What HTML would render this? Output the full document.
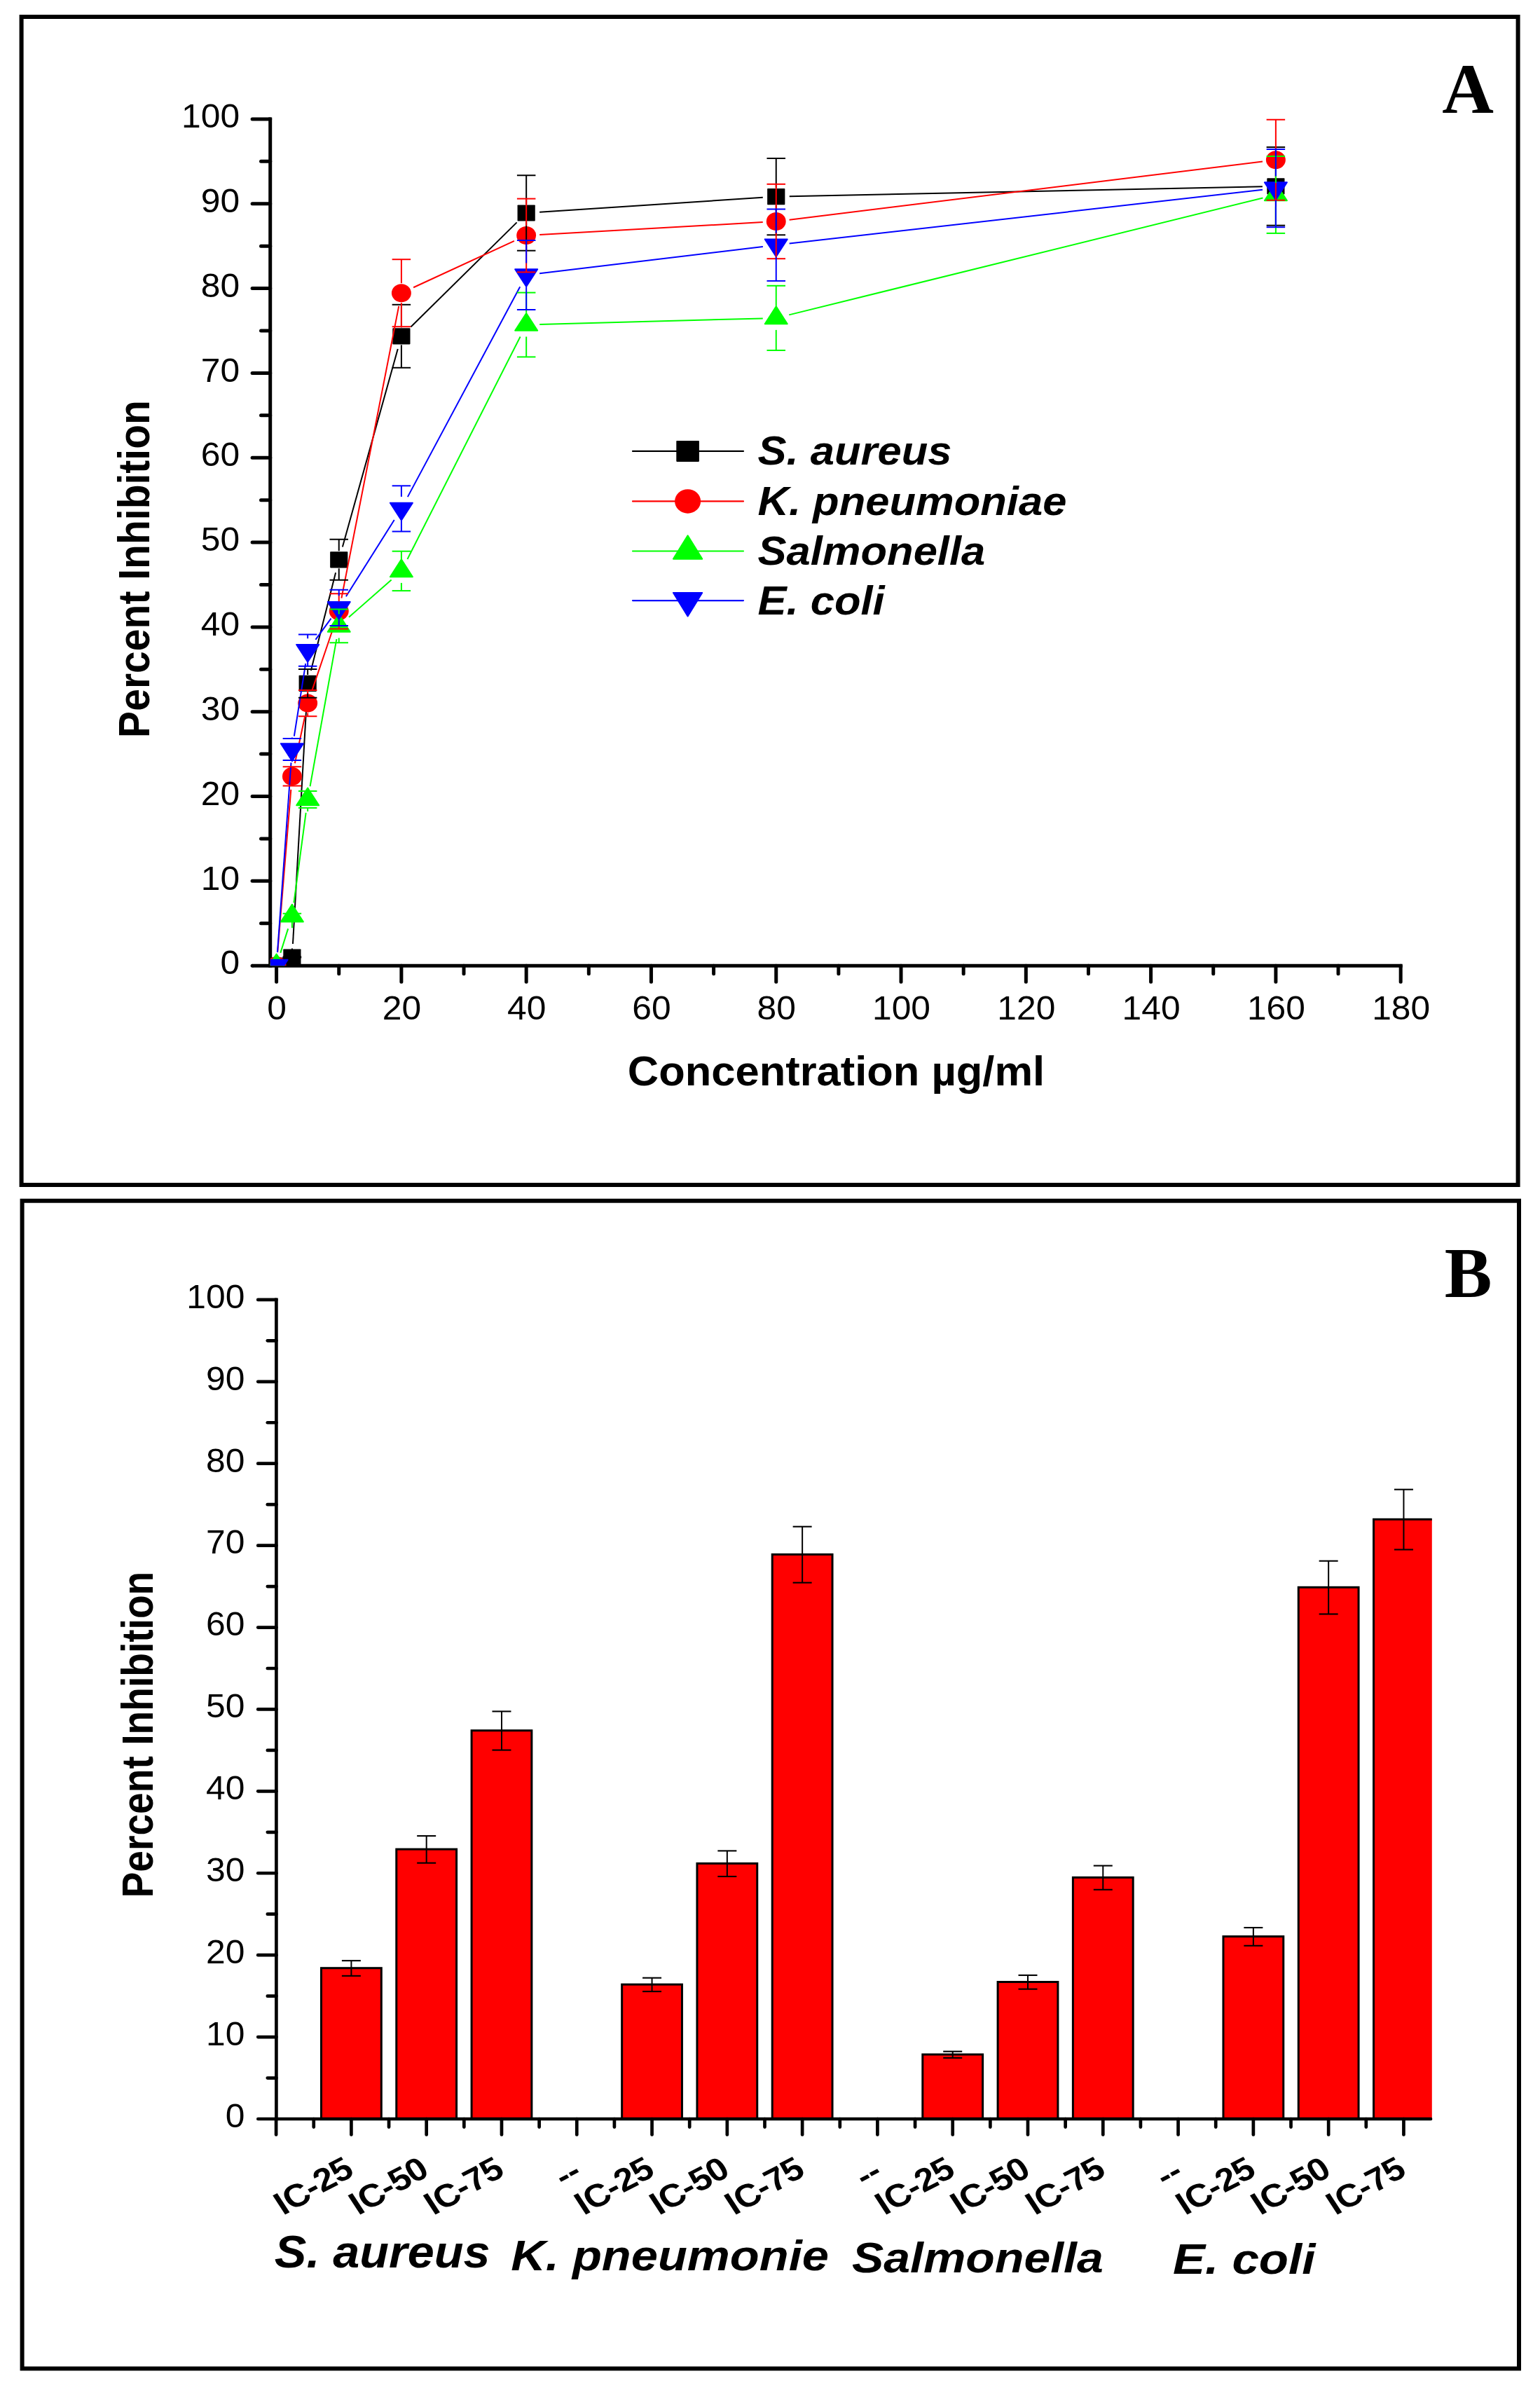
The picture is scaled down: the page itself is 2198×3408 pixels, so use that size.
<!DOCTYPE html>
<html lang="en"><head><meta charset="utf-8"><title>Percent Inhibition charts</title>
<style>html,body{margin:0;padding:0;background:#fff}svg{display:block}</style></head>
<body>
<svg width="2198" height="3408" viewBox="0 0 2198 3408">
<rect width="2198" height="3408" fill="#fff"/>
<rect x="30.6" y="24.0" width="2136.00" height="1667.00" fill="none" stroke="#000" stroke-width="6"/>
<rect x="31.6" y="1713.7" width="2136.40" height="1666.60" fill="none" stroke="#000" stroke-width="6"/>
<line x1="385.70" y1="167.40" x2="385.70" y2="1380.80" stroke="#000" stroke-width="5" stroke-linecap="butt"/>
<line x1="360.10" y1="1378.30" x2="2001.67" y2="1378.30" stroke="#000" stroke-width="5" stroke-linecap="butt"/>
<circle cx="360.1" cy="1378.30" r="2.50" fill="#000"/>
<line x1="372.50" y1="1317.79" x2="385.70" y2="1317.79" stroke="#000" stroke-width="5" stroke-linecap="round"/>
<line x1="360.10" y1="1257.37" x2="385.70" y2="1257.37" stroke="#000" stroke-width="5" stroke-linecap="round"/>
<line x1="372.50" y1="1196.95" x2="385.70" y2="1196.95" stroke="#000" stroke-width="5" stroke-linecap="round"/>
<line x1="360.10" y1="1136.54" x2="385.70" y2="1136.54" stroke="#000" stroke-width="5" stroke-linecap="round"/>
<line x1="372.50" y1="1076.12" x2="385.70" y2="1076.12" stroke="#000" stroke-width="5" stroke-linecap="round"/>
<line x1="360.10" y1="1015.71" x2="385.70" y2="1015.71" stroke="#000" stroke-width="5" stroke-linecap="round"/>
<line x1="372.50" y1="955.30" x2="385.70" y2="955.30" stroke="#000" stroke-width="5" stroke-linecap="round"/>
<line x1="360.10" y1="894.88" x2="385.70" y2="894.88" stroke="#000" stroke-width="5" stroke-linecap="round"/>
<line x1="372.50" y1="834.47" x2="385.70" y2="834.47" stroke="#000" stroke-width="5" stroke-linecap="round"/>
<line x1="360.10" y1="774.05" x2="385.70" y2="774.05" stroke="#000" stroke-width="5" stroke-linecap="round"/>
<line x1="372.50" y1="713.63" x2="385.70" y2="713.63" stroke="#000" stroke-width="5" stroke-linecap="round"/>
<line x1="360.10" y1="653.22" x2="385.70" y2="653.22" stroke="#000" stroke-width="5" stroke-linecap="round"/>
<line x1="372.50" y1="592.81" x2="385.70" y2="592.81" stroke="#000" stroke-width="5" stroke-linecap="round"/>
<line x1="360.10" y1="532.39" x2="385.70" y2="532.39" stroke="#000" stroke-width="5" stroke-linecap="round"/>
<line x1="372.50" y1="471.98" x2="385.70" y2="471.98" stroke="#000" stroke-width="5" stroke-linecap="round"/>
<line x1="360.10" y1="411.56" x2="385.70" y2="411.56" stroke="#000" stroke-width="5" stroke-linecap="round"/>
<line x1="372.50" y1="351.14" x2="385.70" y2="351.14" stroke="#000" stroke-width="5" stroke-linecap="round"/>
<line x1="360.10" y1="290.73" x2="385.70" y2="290.73" stroke="#000" stroke-width="5" stroke-linecap="round"/>
<line x1="372.50" y1="230.32" x2="385.70" y2="230.32" stroke="#000" stroke-width="5" stroke-linecap="round"/>
<line x1="360.10" y1="169.90" x2="385.70" y2="169.90" stroke="#000" stroke-width="5" stroke-linecap="round"/>
<line x1="394.60" y1="1378.30" x2="394.60" y2="1401.20" stroke="#000" stroke-width="5" stroke-linecap="round"/>
<line x1="483.74" y1="1378.30" x2="483.74" y2="1389.80" stroke="#000" stroke-width="5" stroke-linecap="round"/>
<line x1="572.89" y1="1378.30" x2="572.89" y2="1401.20" stroke="#000" stroke-width="5" stroke-linecap="round"/>
<line x1="662.03" y1="1378.30" x2="662.03" y2="1389.80" stroke="#000" stroke-width="5" stroke-linecap="round"/>
<line x1="751.17" y1="1378.30" x2="751.17" y2="1401.20" stroke="#000" stroke-width="5" stroke-linecap="round"/>
<line x1="840.32" y1="1378.30" x2="840.32" y2="1389.80" stroke="#000" stroke-width="5" stroke-linecap="round"/>
<line x1="929.46" y1="1378.30" x2="929.46" y2="1401.20" stroke="#000" stroke-width="5" stroke-linecap="round"/>
<line x1="1018.60" y1="1378.30" x2="1018.60" y2="1389.80" stroke="#000" stroke-width="5" stroke-linecap="round"/>
<line x1="1107.74" y1="1378.30" x2="1107.74" y2="1401.20" stroke="#000" stroke-width="5" stroke-linecap="round"/>
<line x1="1196.89" y1="1378.30" x2="1196.89" y2="1389.80" stroke="#000" stroke-width="5" stroke-linecap="round"/>
<line x1="1286.03" y1="1378.30" x2="1286.03" y2="1401.20" stroke="#000" stroke-width="5" stroke-linecap="round"/>
<line x1="1375.17" y1="1378.30" x2="1375.17" y2="1389.80" stroke="#000" stroke-width="5" stroke-linecap="round"/>
<line x1="1464.32" y1="1378.30" x2="1464.32" y2="1401.20" stroke="#000" stroke-width="5" stroke-linecap="round"/>
<line x1="1553.46" y1="1378.30" x2="1553.46" y2="1389.80" stroke="#000" stroke-width="5" stroke-linecap="round"/>
<line x1="1642.60" y1="1378.30" x2="1642.60" y2="1401.20" stroke="#000" stroke-width="5" stroke-linecap="round"/>
<line x1="1731.75" y1="1378.30" x2="1731.75" y2="1389.80" stroke="#000" stroke-width="5" stroke-linecap="round"/>
<line x1="1820.89" y1="1378.30" x2="1820.89" y2="1401.20" stroke="#000" stroke-width="5" stroke-linecap="round"/>
<line x1="1910.03" y1="1378.30" x2="1910.03" y2="1389.80" stroke="#000" stroke-width="5" stroke-linecap="round"/>
<line x1="1999.17" y1="1378.30" x2="1999.17" y2="1401.20" stroke="#000" stroke-width="5" stroke-linecap="round"/>
<defs><clipPath id="cpa"><rect x="385.7" y="100" width="1700" height="1278.3"/></clipPath></defs>
<g clip-path="url(#cpa)">
<line x1="417.97" y1="1347.03" x2="438.09" y2="994.37" stroke="#000000" stroke-width="2.0" stroke-linecap="butt"/>
<line x1="443.82" y1="956.98" x2="479.09" y2="817.22" stroke="#000000" stroke-width="2.0" stroke-linecap="butt"/>
<line x1="488.86" y1="780.50" x2="567.77" y2="498.10" stroke="#000000" stroke-width="2.0" stroke-linecap="butt"/>
<line x1="586.42" y1="466.46" x2="737.64" y2="317.34" stroke="#000000" stroke-width="2.0" stroke-linecap="butt"/>
<line x1="770.13" y1="302.76" x2="1088.78" y2="281.84" stroke="#000000" stroke-width="2.0" stroke-linecap="butt"/>
<line x1="1126.74" y1="280.21" x2="1801.89" y2="266.19" stroke="#000000" stroke-width="2.0" stroke-linecap="butt"/>
<rect x="382.00" y="1366.40" width="25.20" height="23.20" rx="0.8" fill="#000000"/>
<rect x="404.29" y="1354.40" width="25.20" height="23.20" rx="0.8" fill="#000000"/>
<rect x="426.57" y="963.80" width="25.20" height="23.20" rx="0.8" fill="#000000"/>
<rect x="471.14" y="787.20" width="25.20" height="23.20" rx="0.8" fill="#000000"/>
<rect x="560.29" y="468.20" width="25.20" height="23.20" rx="0.8" fill="#000000"/>
<rect x="738.57" y="292.40" width="25.20" height="23.20" rx="0.8" fill="#000000"/>
<rect x="1095.14" y="269.00" width="25.20" height="23.20" rx="0.8" fill="#000000"/>
<rect x="1808.29" y="254.20" width="25.20" height="23.20" rx="0.8" fill="#000000"/>
<line x1="396.16" y1="1359.06" x2="415.32" y2="1126.84" stroke="#ff0000" stroke-width="2.0" stroke-linecap="butt"/>
<line x1="420.86" y1="1089.32" x2="435.20" y2="1022.18" stroke="#ff0000" stroke-width="2.0" stroke-linecap="butt"/>
<line x1="445.28" y1="985.61" x2="477.64" y2="890.29" stroke="#ff0000" stroke-width="2.0" stroke-linecap="butt"/>
<line x1="487.40" y1="853.66" x2="569.23" y2="436.84" stroke="#ff0000" stroke-width="2.0" stroke-linecap="butt"/>
<line x1="590.14" y1="410.24" x2="733.92" y2="343.96" stroke="#ff0000" stroke-width="2.0" stroke-linecap="butt"/>
<line x1="770.14" y1="334.94" x2="1088.77" y2="317.06" stroke="#ff0000" stroke-width="2.0" stroke-linecap="butt"/>
<line x1="1126.60" y1="313.68" x2="1802.03" y2="230.52" stroke="#ff0000" stroke-width="2.0" stroke-linecap="butt"/>
<ellipse cx="394.60" cy="1378.00" rx="13.95" ry="13.05" fill="#ff0000"/>
<ellipse cx="416.89" cy="1107.90" rx="13.95" ry="13.05" fill="#ff0000"/>
<ellipse cx="439.17" cy="1003.60" rx="13.95" ry="13.05" fill="#ff0000"/>
<ellipse cx="483.74" cy="872.30" rx="13.95" ry="13.05" fill="#ff0000"/>
<ellipse cx="572.89" cy="418.20" rx="13.95" ry="13.05" fill="#ff0000"/>
<ellipse cx="751.17" cy="336.00" rx="13.95" ry="13.05" fill="#ff0000"/>
<ellipse cx="1107.74" cy="316.00" rx="13.95" ry="13.05" fill="#ff0000"/>
<ellipse cx="1820.89" cy="228.20" rx="13.95" ry="13.05" fill="#ff0000"/>
<line x1="400.31" y1="1359.88" x2="411.17" y2="1325.42" stroke="#00ff00" stroke-width="2.0" stroke-linecap="butt"/>
<line x1="419.41" y1="1288.47" x2="436.65" y2="1159.83" stroke="#00ff00" stroke-width="2.0" stroke-linecap="butt"/>
<line x1="442.54" y1="1122.30" x2="480.38" y2="912.10" stroke="#00ff00" stroke-width="2.0" stroke-linecap="butt"/>
<line x1="498.00" y1="880.84" x2="558.63" y2="827.46" stroke="#00ff00" stroke-width="2.0" stroke-linecap="butt"/>
<line x1="581.48" y1="797.96" x2="742.58" y2="480.44" stroke="#00ff00" stroke-width="2.0" stroke-linecap="butt"/>
<line x1="770.17" y1="462.99" x2="1088.75" y2="454.41" stroke="#00ff00" stroke-width="2.0" stroke-linecap="butt"/>
<line x1="1126.19" y1="449.35" x2="1802.44" y2="282.55" stroke="#00ff00" stroke-width="2.0" stroke-linecap="butt"/>
<polygon points="394.60,1361.47 378.60,1386.27 410.60,1386.27" fill="#00ff00" stroke="#00ff00" stroke-width="2" stroke-linejoin="round"/>
<polygon points="416.89,1290.77 400.89,1315.57 432.89,1315.57" fill="#00ff00" stroke="#00ff00" stroke-width="2" stroke-linejoin="round"/>
<polygon points="439.17,1124.47 423.17,1149.27 455.17,1149.27" fill="#00ff00" stroke="#00ff00" stroke-width="2" stroke-linejoin="round"/>
<polygon points="483.74,876.87 467.74,901.67 499.74,901.67" fill="#00ff00" stroke="#00ff00" stroke-width="2" stroke-linejoin="round"/>
<polygon points="572.89,798.37 556.89,823.17 588.89,823.17" fill="#00ff00" stroke="#00ff00" stroke-width="2" stroke-linejoin="round"/>
<polygon points="751.17,446.97 735.17,471.77 767.17,471.77" fill="#00ff00" stroke="#00ff00" stroke-width="2" stroke-linejoin="round"/>
<polygon points="1107.74,437.37 1091.74,462.17 1123.74,462.17" fill="#00ff00" stroke="#00ff00" stroke-width="2" stroke-linejoin="round"/>
<polygon points="1820.89,261.47 1804.89,286.27 1836.89,286.27" fill="#00ff00" stroke="#00ff00" stroke-width="2" stroke-linejoin="round"/>
<line x1="395.97" y1="1359.05" x2="415.52" y2="1088.35" stroke="#0000ff" stroke-width="2.0" stroke-linecap="butt"/>
<line x1="419.85" y1="1050.63" x2="436.21" y2="946.97" stroke="#0000ff" stroke-width="2.0" stroke-linecap="butt"/>
<line x1="450.39" y1="912.87" x2="472.52" y2="882.63" stroke="#0000ff" stroke-width="2.0" stroke-linecap="butt"/>
<line x1="493.88" y1="851.23" x2="562.75" y2="741.97" stroke="#0000ff" stroke-width="2.0" stroke-linecap="butt"/>
<line x1="581.85" y1="709.15" x2="742.21" y2="409.25" stroke="#0000ff" stroke-width="2.0" stroke-linecap="butt"/>
<line x1="770.04" y1="390.24" x2="1088.88" y2="351.96" stroke="#0000ff" stroke-width="2.0" stroke-linecap="butt"/>
<line x1="1126.62" y1="347.55" x2="1802.01" y2="270.75" stroke="#0000ff" stroke-width="2.0" stroke-linecap="butt"/>
<polygon points="394.60,1394.53 378.60,1369.73 410.60,1369.73" fill="#0000ff" stroke="#0000ff" stroke-width="2" stroke-linejoin="round"/>
<polygon points="416.89,1085.93 400.89,1061.13 432.89,1061.13" fill="#0000ff" stroke="#0000ff" stroke-width="2" stroke-linejoin="round"/>
<polygon points="439.17,944.73 423.17,919.93 455.17,919.93" fill="#0000ff" stroke="#0000ff" stroke-width="2" stroke-linejoin="round"/>
<polygon points="483.74,883.83 467.74,859.03 499.74,859.03" fill="#0000ff" stroke="#0000ff" stroke-width="2" stroke-linejoin="round"/>
<polygon points="572.89,742.43 556.89,717.63 588.89,717.63" fill="#0000ff" stroke="#0000ff" stroke-width="2" stroke-linejoin="round"/>
<polygon points="751.17,409.03 735.17,384.23 767.17,384.23" fill="#0000ff" stroke="#0000ff" stroke-width="2" stroke-linejoin="round"/>
<polygon points="1107.74,366.23 1091.74,341.43 1123.74,341.43" fill="#0000ff" stroke="#0000ff" stroke-width="2" stroke-linejoin="round"/>
<polygon points="1820.89,285.13 1804.89,260.33 1836.89,260.33" fill="#0000ff" stroke="#0000ff" stroke-width="2" stroke-linejoin="round"/>
<line x1="416.89" y1="1353.50" x2="416.89" y2="1365.40" stroke="#000000" stroke-width="2.0" stroke-linecap="butt"/>
<line x1="416.89" y1="1378.50" x2="416.89" y2="1366.60" stroke="#000000" stroke-width="2.0" stroke-linecap="butt"/>
<line x1="403.64" y1="1365.40" x2="430.14" y2="1365.40" stroke="#000000" stroke-width="2.0" stroke-linecap="butt"/>
<line x1="403.64" y1="1366.60" x2="430.14" y2="1366.60" stroke="#000000" stroke-width="2.0" stroke-linecap="butt"/>
<line x1="439.17" y1="962.90" x2="439.17" y2="955.00" stroke="#000000" stroke-width="2.0" stroke-linecap="butt"/>
<line x1="439.17" y1="987.90" x2="439.17" y2="995.80" stroke="#000000" stroke-width="2.0" stroke-linecap="butt"/>
<line x1="425.92" y1="955.00" x2="452.42" y2="955.00" stroke="#000000" stroke-width="2.0" stroke-linecap="butt"/>
<line x1="425.92" y1="995.80" x2="452.42" y2="995.80" stroke="#000000" stroke-width="2.0" stroke-linecap="butt"/>
<line x1="483.74" y1="786.30" x2="483.74" y2="769.80" stroke="#000000" stroke-width="2.0" stroke-linecap="butt"/>
<line x1="483.74" y1="811.30" x2="483.74" y2="827.80" stroke="#000000" stroke-width="2.0" stroke-linecap="butt"/>
<line x1="470.49" y1="769.80" x2="496.99" y2="769.80" stroke="#000000" stroke-width="2.0" stroke-linecap="butt"/>
<line x1="470.49" y1="827.80" x2="496.99" y2="827.80" stroke="#000000" stroke-width="2.0" stroke-linecap="butt"/>
<line x1="572.89" y1="467.30" x2="572.89" y2="434.80" stroke="#000000" stroke-width="2.0" stroke-linecap="butt"/>
<line x1="572.89" y1="492.30" x2="572.89" y2="524.80" stroke="#000000" stroke-width="2.0" stroke-linecap="butt"/>
<line x1="559.64" y1="434.80" x2="586.14" y2="434.80" stroke="#000000" stroke-width="2.0" stroke-linecap="butt"/>
<line x1="559.64" y1="524.80" x2="586.14" y2="524.80" stroke="#000000" stroke-width="2.0" stroke-linecap="butt"/>
<line x1="751.17" y1="291.50" x2="751.17" y2="250.30" stroke="#000000" stroke-width="2.0" stroke-linecap="butt"/>
<line x1="751.17" y1="316.50" x2="751.17" y2="357.70" stroke="#000000" stroke-width="2.0" stroke-linecap="butt"/>
<line x1="737.92" y1="250.30" x2="764.42" y2="250.30" stroke="#000000" stroke-width="2.0" stroke-linecap="butt"/>
<line x1="737.92" y1="357.70" x2="764.42" y2="357.70" stroke="#000000" stroke-width="2.0" stroke-linecap="butt"/>
<line x1="1107.74" y1="268.10" x2="1107.74" y2="225.90" stroke="#000000" stroke-width="2.0" stroke-linecap="butt"/>
<line x1="1107.74" y1="293.10" x2="1107.74" y2="335.30" stroke="#000000" stroke-width="2.0" stroke-linecap="butt"/>
<line x1="1094.49" y1="225.90" x2="1120.99" y2="225.90" stroke="#000000" stroke-width="2.0" stroke-linecap="butt"/>
<line x1="1094.49" y1="335.30" x2="1120.99" y2="335.30" stroke="#000000" stroke-width="2.0" stroke-linecap="butt"/>
<line x1="1820.89" y1="253.30" x2="1820.89" y2="209.90" stroke="#000000" stroke-width="2.0" stroke-linecap="butt"/>
<line x1="1820.89" y1="278.30" x2="1820.89" y2="321.70" stroke="#000000" stroke-width="2.0" stroke-linecap="butt"/>
<line x1="1807.64" y1="209.90" x2="1834.14" y2="209.90" stroke="#000000" stroke-width="2.0" stroke-linecap="butt"/>
<line x1="1807.64" y1="321.70" x2="1834.14" y2="321.70" stroke="#000000" stroke-width="2.0" stroke-linecap="butt"/>
<line x1="416.89" y1="1093.90" x2="416.89" y2="1094.25" stroke="#ff0000" stroke-width="2.0" stroke-linecap="butt"/>
<line x1="416.89" y1="1121.90" x2="416.89" y2="1121.55" stroke="#ff0000" stroke-width="2.0" stroke-linecap="butt"/>
<line x1="403.64" y1="1094.25" x2="430.14" y2="1094.25" stroke="#ff0000" stroke-width="2.0" stroke-linecap="butt"/>
<line x1="403.64" y1="1121.55" x2="430.14" y2="1121.55" stroke="#ff0000" stroke-width="2.0" stroke-linecap="butt"/>
<line x1="439.17" y1="989.60" x2="439.17" y2="985.00" stroke="#ff0000" stroke-width="2.0" stroke-linecap="butt"/>
<line x1="439.17" y1="1017.60" x2="439.17" y2="1022.20" stroke="#ff0000" stroke-width="2.0" stroke-linecap="butt"/>
<line x1="425.92" y1="985.00" x2="452.42" y2="985.00" stroke="#ff0000" stroke-width="2.0" stroke-linecap="butt"/>
<line x1="425.92" y1="1022.20" x2="452.42" y2="1022.20" stroke="#ff0000" stroke-width="2.0" stroke-linecap="butt"/>
<line x1="483.74" y1="858.30" x2="483.74" y2="847.20" stroke="#ff0000" stroke-width="2.0" stroke-linecap="butt"/>
<line x1="483.74" y1="886.30" x2="483.74" y2="897.40" stroke="#ff0000" stroke-width="2.0" stroke-linecap="butt"/>
<line x1="470.49" y1="847.20" x2="496.99" y2="847.20" stroke="#ff0000" stroke-width="2.0" stroke-linecap="butt"/>
<line x1="470.49" y1="897.40" x2="496.99" y2="897.40" stroke="#ff0000" stroke-width="2.0" stroke-linecap="butt"/>
<line x1="572.89" y1="404.20" x2="572.89" y2="370.20" stroke="#ff0000" stroke-width="2.0" stroke-linecap="butt"/>
<line x1="572.89" y1="432.20" x2="572.89" y2="466.20" stroke="#ff0000" stroke-width="2.0" stroke-linecap="butt"/>
<line x1="559.64" y1="370.20" x2="586.14" y2="370.20" stroke="#ff0000" stroke-width="2.0" stroke-linecap="butt"/>
<line x1="559.64" y1="466.20" x2="586.14" y2="466.20" stroke="#ff0000" stroke-width="2.0" stroke-linecap="butt"/>
<line x1="751.17" y1="322.00" x2="751.17" y2="283.60" stroke="#ff0000" stroke-width="2.0" stroke-linecap="butt"/>
<line x1="751.17" y1="350.00" x2="751.17" y2="388.40" stroke="#ff0000" stroke-width="2.0" stroke-linecap="butt"/>
<line x1="737.92" y1="283.60" x2="764.42" y2="283.60" stroke="#ff0000" stroke-width="2.0" stroke-linecap="butt"/>
<line x1="737.92" y1="388.40" x2="764.42" y2="388.40" stroke="#ff0000" stroke-width="2.0" stroke-linecap="butt"/>
<line x1="1107.74" y1="302.00" x2="1107.74" y2="262.80" stroke="#ff0000" stroke-width="2.0" stroke-linecap="butt"/>
<line x1="1107.74" y1="330.00" x2="1107.74" y2="369.20" stroke="#ff0000" stroke-width="2.0" stroke-linecap="butt"/>
<line x1="1094.49" y1="262.80" x2="1120.99" y2="262.80" stroke="#ff0000" stroke-width="2.0" stroke-linecap="butt"/>
<line x1="1094.49" y1="369.20" x2="1120.99" y2="369.20" stroke="#ff0000" stroke-width="2.0" stroke-linecap="butt"/>
<line x1="1820.89" y1="214.20" x2="1820.89" y2="170.70" stroke="#ff0000" stroke-width="2.0" stroke-linecap="butt"/>
<line x1="1820.89" y1="242.20" x2="1820.89" y2="285.70" stroke="#ff0000" stroke-width="2.0" stroke-linecap="butt"/>
<line x1="1807.64" y1="170.70" x2="1834.14" y2="170.70" stroke="#ff0000" stroke-width="2.0" stroke-linecap="butt"/>
<line x1="1807.64" y1="285.70" x2="1834.14" y2="285.70" stroke="#ff0000" stroke-width="2.0" stroke-linecap="butt"/>
<line x1="416.89" y1="1290.30" x2="416.89" y2="1303.80" stroke="#00ff00" stroke-width="2.0" stroke-linecap="butt"/>
<line x1="416.89" y1="1324.30" x2="416.89" y2="1310.80" stroke="#00ff00" stroke-width="2.0" stroke-linecap="butt"/>
<line x1="403.64" y1="1303.80" x2="430.14" y2="1303.80" stroke="#00ff00" stroke-width="2.0" stroke-linecap="butt"/>
<line x1="403.64" y1="1310.80" x2="430.14" y2="1310.80" stroke="#00ff00" stroke-width="2.0" stroke-linecap="butt"/>
<line x1="439.17" y1="1124.00" x2="439.17" y2="1129.10" stroke="#00ff00" stroke-width="2.0" stroke-linecap="butt"/>
<line x1="439.17" y1="1158.00" x2="439.17" y2="1152.90" stroke="#00ff00" stroke-width="2.0" stroke-linecap="butt"/>
<line x1="425.92" y1="1129.10" x2="452.42" y2="1129.10" stroke="#00ff00" stroke-width="2.0" stroke-linecap="butt"/>
<line x1="425.92" y1="1152.90" x2="452.42" y2="1152.90" stroke="#00ff00" stroke-width="2.0" stroke-linecap="butt"/>
<line x1="483.74" y1="876.40" x2="483.74" y2="869.50" stroke="#00ff00" stroke-width="2.0" stroke-linecap="butt"/>
<line x1="483.74" y1="910.40" x2="483.74" y2="917.30" stroke="#00ff00" stroke-width="2.0" stroke-linecap="butt"/>
<line x1="470.49" y1="869.50" x2="496.99" y2="869.50" stroke="#00ff00" stroke-width="2.0" stroke-linecap="butt"/>
<line x1="470.49" y1="917.30" x2="496.99" y2="917.30" stroke="#00ff00" stroke-width="2.0" stroke-linecap="butt"/>
<line x1="572.89" y1="797.90" x2="572.89" y2="786.70" stroke="#00ff00" stroke-width="2.0" stroke-linecap="butt"/>
<line x1="572.89" y1="831.90" x2="572.89" y2="843.10" stroke="#00ff00" stroke-width="2.0" stroke-linecap="butt"/>
<line x1="559.64" y1="786.70" x2="586.14" y2="786.70" stroke="#00ff00" stroke-width="2.0" stroke-linecap="butt"/>
<line x1="559.64" y1="843.10" x2="586.14" y2="843.10" stroke="#00ff00" stroke-width="2.0" stroke-linecap="butt"/>
<line x1="751.17" y1="446.50" x2="751.17" y2="417.60" stroke="#00ff00" stroke-width="2.0" stroke-linecap="butt"/>
<line x1="751.17" y1="480.50" x2="751.17" y2="509.40" stroke="#00ff00" stroke-width="2.0" stroke-linecap="butt"/>
<line x1="737.92" y1="417.60" x2="764.42" y2="417.60" stroke="#00ff00" stroke-width="2.0" stroke-linecap="butt"/>
<line x1="737.92" y1="509.40" x2="764.42" y2="509.40" stroke="#00ff00" stroke-width="2.0" stroke-linecap="butt"/>
<line x1="1107.74" y1="436.90" x2="1107.74" y2="407.80" stroke="#00ff00" stroke-width="2.0" stroke-linecap="butt"/>
<line x1="1107.74" y1="470.90" x2="1107.74" y2="500.00" stroke="#00ff00" stroke-width="2.0" stroke-linecap="butt"/>
<line x1="1094.49" y1="407.80" x2="1120.99" y2="407.80" stroke="#00ff00" stroke-width="2.0" stroke-linecap="butt"/>
<line x1="1094.49" y1="500.00" x2="1120.99" y2="500.00" stroke="#00ff00" stroke-width="2.0" stroke-linecap="butt"/>
<line x1="1820.89" y1="261.00" x2="1820.89" y2="223.10" stroke="#00ff00" stroke-width="2.0" stroke-linecap="butt"/>
<line x1="1820.89" y1="295.00" x2="1820.89" y2="332.90" stroke="#00ff00" stroke-width="2.0" stroke-linecap="butt"/>
<line x1="1807.64" y1="223.10" x2="1834.14" y2="223.10" stroke="#00ff00" stroke-width="2.0" stroke-linecap="butt"/>
<line x1="1807.64" y1="332.90" x2="1834.14" y2="332.90" stroke="#00ff00" stroke-width="2.0" stroke-linecap="butt"/>
<line x1="416.89" y1="1052.40" x2="416.89" y2="1053.90" stroke="#0000ff" stroke-width="2.0" stroke-linecap="butt"/>
<line x1="416.89" y1="1086.40" x2="416.89" y2="1084.90" stroke="#0000ff" stroke-width="2.0" stroke-linecap="butt"/>
<line x1="403.64" y1="1053.90" x2="430.14" y2="1053.90" stroke="#0000ff" stroke-width="2.0" stroke-linecap="butt"/>
<line x1="403.64" y1="1084.90" x2="430.14" y2="1084.90" stroke="#0000ff" stroke-width="2.0" stroke-linecap="butt"/>
<line x1="439.17" y1="911.20" x2="439.17" y2="905.60" stroke="#0000ff" stroke-width="2.0" stroke-linecap="butt"/>
<line x1="439.17" y1="945.20" x2="439.17" y2="950.80" stroke="#0000ff" stroke-width="2.0" stroke-linecap="butt"/>
<line x1="425.92" y1="905.60" x2="452.42" y2="905.60" stroke="#0000ff" stroke-width="2.0" stroke-linecap="butt"/>
<line x1="425.92" y1="950.80" x2="452.42" y2="950.80" stroke="#0000ff" stroke-width="2.0" stroke-linecap="butt"/>
<line x1="483.74" y1="850.30" x2="483.74" y2="841.70" stroke="#0000ff" stroke-width="2.0" stroke-linecap="butt"/>
<line x1="483.74" y1="884.30" x2="483.74" y2="892.90" stroke="#0000ff" stroke-width="2.0" stroke-linecap="butt"/>
<line x1="470.49" y1="841.70" x2="496.99" y2="841.70" stroke="#0000ff" stroke-width="2.0" stroke-linecap="butt"/>
<line x1="470.49" y1="892.90" x2="496.99" y2="892.90" stroke="#0000ff" stroke-width="2.0" stroke-linecap="butt"/>
<line x1="572.89" y1="708.90" x2="572.89" y2="693.30" stroke="#0000ff" stroke-width="2.0" stroke-linecap="butt"/>
<line x1="572.89" y1="742.90" x2="572.89" y2="758.50" stroke="#0000ff" stroke-width="2.0" stroke-linecap="butt"/>
<line x1="559.64" y1="693.30" x2="586.14" y2="693.30" stroke="#0000ff" stroke-width="2.0" stroke-linecap="butt"/>
<line x1="559.64" y1="758.50" x2="586.14" y2="758.50" stroke="#0000ff" stroke-width="2.0" stroke-linecap="butt"/>
<line x1="751.17" y1="375.50" x2="751.17" y2="343.00" stroke="#0000ff" stroke-width="2.0" stroke-linecap="butt"/>
<line x1="751.17" y1="409.50" x2="751.17" y2="442.00" stroke="#0000ff" stroke-width="2.0" stroke-linecap="butt"/>
<line x1="737.92" y1="343.00" x2="764.42" y2="343.00" stroke="#0000ff" stroke-width="2.0" stroke-linecap="butt"/>
<line x1="737.92" y1="442.00" x2="764.42" y2="442.00" stroke="#0000ff" stroke-width="2.0" stroke-linecap="butt"/>
<line x1="1107.74" y1="332.70" x2="1107.74" y2="298.50" stroke="#0000ff" stroke-width="2.0" stroke-linecap="butt"/>
<line x1="1107.74" y1="366.70" x2="1107.74" y2="400.90" stroke="#0000ff" stroke-width="2.0" stroke-linecap="butt"/>
<line x1="1094.49" y1="298.50" x2="1120.99" y2="298.50" stroke="#0000ff" stroke-width="2.0" stroke-linecap="butt"/>
<line x1="1094.49" y1="400.90" x2="1120.99" y2="400.90" stroke="#0000ff" stroke-width="2.0" stroke-linecap="butt"/>
<line x1="1820.89" y1="251.60" x2="1820.89" y2="213.00" stroke="#0000ff" stroke-width="2.0" stroke-linecap="butt"/>
<line x1="1820.89" y1="285.60" x2="1820.89" y2="324.20" stroke="#0000ff" stroke-width="2.0" stroke-linecap="butt"/>
<line x1="1807.64" y1="213.00" x2="1834.14" y2="213.00" stroke="#0000ff" stroke-width="2.0" stroke-linecap="butt"/>
<line x1="1807.64" y1="324.20" x2="1834.14" y2="324.20" stroke="#0000ff" stroke-width="2.0" stroke-linecap="butt"/>
</g>
<text transform="translate(342.10,1390.40) scale(1.0300,1)" font-family="Liberation Sans, Arial, Helvetica, sans-serif" font-size="48.3" font-weight="normal" font-style="normal" text-anchor="end" >0</text>
<text transform="translate(342.10,1269.57) scale(1.0300,1)" font-family="Liberation Sans, Arial, Helvetica, sans-serif" font-size="48.3" font-weight="normal" font-style="normal" text-anchor="end" >10</text>
<text transform="translate(342.10,1148.74) scale(1.0300,1)" font-family="Liberation Sans, Arial, Helvetica, sans-serif" font-size="48.3" font-weight="normal" font-style="normal" text-anchor="end" >20</text>
<text transform="translate(342.10,1027.91) scale(1.0300,1)" font-family="Liberation Sans, Arial, Helvetica, sans-serif" font-size="48.3" font-weight="normal" font-style="normal" text-anchor="end" >30</text>
<text transform="translate(342.10,907.08) scale(1.0300,1)" font-family="Liberation Sans, Arial, Helvetica, sans-serif" font-size="48.3" font-weight="normal" font-style="normal" text-anchor="end" >40</text>
<text transform="translate(342.10,786.25) scale(1.0300,1)" font-family="Liberation Sans, Arial, Helvetica, sans-serif" font-size="48.3" font-weight="normal" font-style="normal" text-anchor="end" >50</text>
<text transform="translate(342.10,665.42) scale(1.0300,1)" font-family="Liberation Sans, Arial, Helvetica, sans-serif" font-size="48.3" font-weight="normal" font-style="normal" text-anchor="end" >60</text>
<text transform="translate(342.10,544.59) scale(1.0300,1)" font-family="Liberation Sans, Arial, Helvetica, sans-serif" font-size="48.3" font-weight="normal" font-style="normal" text-anchor="end" >70</text>
<text transform="translate(342.10,423.76) scale(1.0300,1)" font-family="Liberation Sans, Arial, Helvetica, sans-serif" font-size="48.3" font-weight="normal" font-style="normal" text-anchor="end" >80</text>
<text transform="translate(342.10,302.93) scale(1.0300,1)" font-family="Liberation Sans, Arial, Helvetica, sans-serif" font-size="48.3" font-weight="normal" font-style="normal" text-anchor="end" >90</text>
<text transform="translate(342.10,182.10) scale(1.0300,1)" font-family="Liberation Sans, Arial, Helvetica, sans-serif" font-size="48.3" font-weight="normal" font-style="normal" text-anchor="end" >100</text>
<text transform="translate(395.10,1454.80) scale(1.0300,1)" font-family="Liberation Sans, Arial, Helvetica, sans-serif" font-size="48.3" font-weight="normal" font-style="normal" text-anchor="middle" >0</text>
<text transform="translate(573.39,1454.80) scale(1.0300,1)" font-family="Liberation Sans, Arial, Helvetica, sans-serif" font-size="48.3" font-weight="normal" font-style="normal" text-anchor="middle" >20</text>
<text transform="translate(751.67,1454.80) scale(1.0300,1)" font-family="Liberation Sans, Arial, Helvetica, sans-serif" font-size="48.3" font-weight="normal" font-style="normal" text-anchor="middle" >40</text>
<text transform="translate(929.96,1454.80) scale(1.0300,1)" font-family="Liberation Sans, Arial, Helvetica, sans-serif" font-size="48.3" font-weight="normal" font-style="normal" text-anchor="middle" >60</text>
<text transform="translate(1108.24,1454.80) scale(1.0300,1)" font-family="Liberation Sans, Arial, Helvetica, sans-serif" font-size="48.3" font-weight="normal" font-style="normal" text-anchor="middle" >80</text>
<text transform="translate(1286.53,1454.80) scale(1.0300,1)" font-family="Liberation Sans, Arial, Helvetica, sans-serif" font-size="48.3" font-weight="normal" font-style="normal" text-anchor="middle" >100</text>
<text transform="translate(1464.82,1454.80) scale(1.0300,1)" font-family="Liberation Sans, Arial, Helvetica, sans-serif" font-size="48.3" font-weight="normal" font-style="normal" text-anchor="middle" >120</text>
<text transform="translate(1643.10,1454.80) scale(1.0300,1)" font-family="Liberation Sans, Arial, Helvetica, sans-serif" font-size="48.3" font-weight="normal" font-style="normal" text-anchor="middle" >140</text>
<text transform="translate(1821.39,1454.80) scale(1.0300,1)" font-family="Liberation Sans, Arial, Helvetica, sans-serif" font-size="48.3" font-weight="normal" font-style="normal" text-anchor="middle" >160</text>
<text transform="translate(1999.67,1454.80) scale(1.0300,1)" font-family="Liberation Sans, Arial, Helvetica, sans-serif" font-size="48.3" font-weight="normal" font-style="normal" text-anchor="middle" >180</text>
<text transform="translate(213.30,812.00) rotate(-90) scale(0.9057,1)" font-family="Liberation Sans, Arial, Helvetica, sans-serif" font-size="63" font-weight="bold" font-style="normal" text-anchor="middle" >Percent Inhibition</text>
<text transform="translate(1193.50,1549.30) scale(1.0244,1)" font-family="Liberation Sans, Arial, Helvetica, sans-serif" font-size="60" font-weight="bold" font-style="normal" text-anchor="middle" >Concentration µg/ml</text>
<text transform="translate(2095.00,160.60)" font-family="Liberation Serif, Times New Roman, serif" font-size="102" font-weight="bold" font-style="normal" text-anchor="middle" >A</text>
<line x1="903.00" y1="643.90" x2="1061.00" y2="643.90" stroke="#000000" stroke-width="2.1" stroke-linecap="round"/>
<rect x="965.30" y="628.90" width="32.60" height="30.00" rx="0.8" fill="#000000"/>
<text transform="translate(1081.50,662.90) scale(1.0700,1)" font-family="Liberation Sans, Arial, Helvetica, sans-serif" font-size="57.5" font-weight="bold" font-style="italic" text-anchor="start" >S. aureus</text>
<line x1="903.00" y1="715.40" x2="1061.00" y2="715.40" stroke="#ff0000" stroke-width="2.1" stroke-linecap="round"/>
<ellipse cx="981.60" cy="715.40" rx="18.50" ry="17.25" fill="#ff0000"/>
<text transform="translate(1081.50,734.80) scale(1.0700,1)" font-family="Liberation Sans, Arial, Helvetica, sans-serif" font-size="57.5" font-weight="bold" font-style="italic" text-anchor="start" >K. pneumoniae</text>
<line x1="903.00" y1="786.50" x2="1061.00" y2="786.50" stroke="#00ff00" stroke-width="2.1" stroke-linecap="round"/>
<polygon points="981.60,764.23 961.00,797.63 1002.20,797.63" fill="#00ff00" stroke="#00ff00" stroke-width="2" stroke-linejoin="round"/>
<text transform="translate(1081.50,806.40) scale(1.0700,1)" font-family="Liberation Sans, Arial, Helvetica, sans-serif" font-size="57.5" font-weight="bold" font-style="italic" text-anchor="start" >Salmonella</text>
<line x1="903.00" y1="857.10" x2="1061.00" y2="857.10" stroke="#0000ff" stroke-width="2.1" stroke-linecap="round"/>
<polygon points="981.60,879.37 961.00,845.97 1002.20,845.97" fill="#0000ff" stroke="#0000ff" stroke-width="2" stroke-linejoin="round"/>
<text transform="translate(1081.50,877.00) scale(1.0700,1)" font-family="Liberation Sans, Arial, Helvetica, sans-serif" font-size="57.5" font-weight="bold" font-style="italic" text-anchor="start" >E. coli</text>
<defs><clipPath id="cpb"><rect x="380" y="1800" width="1663.8" height="1226"/></clipPath></defs>
<g clip-path="url(#cpb)">
<rect x="458.49" y="2808.70" width="85.80" height="215.30" fill="#ff0000" stroke="#000" stroke-width="3"/>
<rect x="565.78" y="2639.10" width="85.80" height="384.90" fill="#ff0000" stroke="#000" stroke-width="3"/>
<rect x="673.07" y="2469.70" width="85.80" height="554.30" fill="#ff0000" stroke="#000" stroke-width="3"/>
<rect x="887.65" y="2832.10" width="85.80" height="191.90" fill="#ff0000" stroke="#000" stroke-width="3"/>
<rect x="994.94" y="2659.40" width="85.80" height="364.60" fill="#ff0000" stroke="#000" stroke-width="3"/>
<rect x="1102.23" y="2218.40" width="85.80" height="805.60" fill="#ff0000" stroke="#000" stroke-width="3"/>
<rect x="1316.81" y="2932.00" width="85.80" height="92.00" fill="#ff0000" stroke="#000" stroke-width="3"/>
<rect x="1424.10" y="2828.50" width="85.80" height="195.50" fill="#ff0000" stroke="#000" stroke-width="3"/>
<rect x="1531.39" y="2679.40" width="85.80" height="344.60" fill="#ff0000" stroke="#000" stroke-width="3"/>
<rect x="1745.97" y="2763.60" width="85.80" height="260.40" fill="#ff0000" stroke="#000" stroke-width="3"/>
<rect x="1853.26" y="2265.30" width="85.80" height="758.70" fill="#ff0000" stroke="#000" stroke-width="3"/>
<rect x="1960.55" y="2168.30" width="85.80" height="855.70" fill="#ff0000" stroke="#000" stroke-width="3"/>
<line x1="501.39" y1="2798.15" x2="501.39" y2="2819.85" stroke="#000" stroke-width="2.0" stroke-linecap="butt"/>
<line x1="487.89" y1="2798.15" x2="514.89" y2="2798.15" stroke="#000" stroke-width="2.1" stroke-linecap="butt"/>
<line x1="487.89" y1="2819.85" x2="514.89" y2="2819.85" stroke="#000" stroke-width="2.1" stroke-linecap="butt"/>
<line x1="608.68" y1="2620.10" x2="608.68" y2="2658.70" stroke="#000" stroke-width="2.0" stroke-linecap="butt"/>
<line x1="595.18" y1="2620.10" x2="622.18" y2="2620.10" stroke="#000" stroke-width="2.1" stroke-linecap="butt"/>
<line x1="595.18" y1="2658.70" x2="622.18" y2="2658.70" stroke="#000" stroke-width="2.1" stroke-linecap="butt"/>
<line x1="715.97" y1="2442.40" x2="715.97" y2="2497.60" stroke="#000" stroke-width="2.0" stroke-linecap="butt"/>
<line x1="702.47" y1="2442.40" x2="729.47" y2="2442.40" stroke="#000" stroke-width="2.1" stroke-linecap="butt"/>
<line x1="702.47" y1="2497.60" x2="729.47" y2="2497.60" stroke="#000" stroke-width="2.1" stroke-linecap="butt"/>
<line x1="930.55" y1="2822.70" x2="930.55" y2="2842.10" stroke="#000" stroke-width="2.0" stroke-linecap="butt"/>
<line x1="917.05" y1="2822.70" x2="944.05" y2="2822.70" stroke="#000" stroke-width="2.1" stroke-linecap="butt"/>
<line x1="917.05" y1="2842.10" x2="944.05" y2="2842.10" stroke="#000" stroke-width="2.1" stroke-linecap="butt"/>
<line x1="1037.84" y1="2641.40" x2="1037.84" y2="2678.00" stroke="#000" stroke-width="2.0" stroke-linecap="butt"/>
<line x1="1024.34" y1="2641.40" x2="1051.34" y2="2641.40" stroke="#000" stroke-width="2.1" stroke-linecap="butt"/>
<line x1="1024.34" y1="2678.00" x2="1051.34" y2="2678.00" stroke="#000" stroke-width="2.1" stroke-linecap="butt"/>
<line x1="1145.13" y1="2178.70" x2="1145.13" y2="2258.70" stroke="#000" stroke-width="2.0" stroke-linecap="butt"/>
<line x1="1131.63" y1="2178.70" x2="1158.63" y2="2178.70" stroke="#000" stroke-width="2.1" stroke-linecap="butt"/>
<line x1="1131.63" y1="2258.70" x2="1158.63" y2="2258.70" stroke="#000" stroke-width="2.1" stroke-linecap="butt"/>
<line x1="1359.71" y1="2927.70" x2="1359.71" y2="2936.90" stroke="#000" stroke-width="2.0" stroke-linecap="butt"/>
<line x1="1346.21" y1="2927.70" x2="1373.21" y2="2927.70" stroke="#000" stroke-width="2.1" stroke-linecap="butt"/>
<line x1="1346.21" y1="2936.90" x2="1373.21" y2="2936.90" stroke="#000" stroke-width="2.1" stroke-linecap="butt"/>
<line x1="1467.00" y1="2818.90" x2="1467.00" y2="2838.70" stroke="#000" stroke-width="2.0" stroke-linecap="butt"/>
<line x1="1453.50" y1="2818.90" x2="1480.50" y2="2818.90" stroke="#000" stroke-width="2.1" stroke-linecap="butt"/>
<line x1="1453.50" y1="2838.70" x2="1480.50" y2="2838.70" stroke="#000" stroke-width="2.1" stroke-linecap="butt"/>
<line x1="1574.29" y1="2662.60" x2="1574.29" y2="2696.80" stroke="#000" stroke-width="2.0" stroke-linecap="butt"/>
<line x1="1560.79" y1="2662.60" x2="1587.79" y2="2662.60" stroke="#000" stroke-width="2.1" stroke-linecap="butt"/>
<line x1="1560.79" y1="2696.80" x2="1587.79" y2="2696.80" stroke="#000" stroke-width="2.1" stroke-linecap="butt"/>
<line x1="1788.87" y1="2751.00" x2="1788.87" y2="2776.80" stroke="#000" stroke-width="2.0" stroke-linecap="butt"/>
<line x1="1775.37" y1="2751.00" x2="1802.37" y2="2751.00" stroke="#000" stroke-width="2.1" stroke-linecap="butt"/>
<line x1="1775.37" y1="2776.80" x2="1802.37" y2="2776.80" stroke="#000" stroke-width="2.1" stroke-linecap="butt"/>
<line x1="1896.16" y1="2227.70" x2="1896.16" y2="2303.50" stroke="#000" stroke-width="2.0" stroke-linecap="butt"/>
<line x1="1882.66" y1="2227.70" x2="1909.66" y2="2227.70" stroke="#000" stroke-width="2.1" stroke-linecap="butt"/>
<line x1="1882.66" y1="2303.50" x2="1909.66" y2="2303.50" stroke="#000" stroke-width="2.1" stroke-linecap="butt"/>
<line x1="2003.45" y1="2125.70" x2="2003.45" y2="2211.50" stroke="#000" stroke-width="2.0" stroke-linecap="butt"/>
<line x1="1989.95" y1="2125.70" x2="2016.95" y2="2125.70" stroke="#000" stroke-width="2.1" stroke-linecap="butt"/>
<line x1="1989.95" y1="2211.50" x2="2016.95" y2="2211.50" stroke="#000" stroke-width="2.1" stroke-linecap="butt"/>
</g>
<line x1="394.40" y1="1852.55" x2="394.40" y2="3026.35" stroke="#000" stroke-width="4.7" stroke-linecap="butt"/>
<line x1="368.30" y1="3024.00" x2="2042.00" y2="3024.00" stroke="#000" stroke-width="4.7" stroke-linecap="round"/>
<line x1="381.80" y1="2965.55" x2="394.40" y2="2965.55" stroke="#000" stroke-width="4.7" stroke-linecap="round"/>
<line x1="368.20" y1="2907.09" x2="394.40" y2="2907.09" stroke="#000" stroke-width="4.7" stroke-linecap="round"/>
<line x1="381.80" y1="2848.64" x2="394.40" y2="2848.64" stroke="#000" stroke-width="4.7" stroke-linecap="round"/>
<line x1="368.20" y1="2790.18" x2="394.40" y2="2790.18" stroke="#000" stroke-width="4.7" stroke-linecap="round"/>
<line x1="381.80" y1="2731.72" x2="394.40" y2="2731.72" stroke="#000" stroke-width="4.7" stroke-linecap="round"/>
<line x1="368.20" y1="2673.27" x2="394.40" y2="2673.27" stroke="#000" stroke-width="4.7" stroke-linecap="round"/>
<line x1="381.80" y1="2614.82" x2="394.40" y2="2614.82" stroke="#000" stroke-width="4.7" stroke-linecap="round"/>
<line x1="368.20" y1="2556.36" x2="394.40" y2="2556.36" stroke="#000" stroke-width="4.7" stroke-linecap="round"/>
<line x1="381.80" y1="2497.90" x2="394.40" y2="2497.90" stroke="#000" stroke-width="4.7" stroke-linecap="round"/>
<line x1="368.20" y1="2439.45" x2="394.40" y2="2439.45" stroke="#000" stroke-width="4.7" stroke-linecap="round"/>
<line x1="381.80" y1="2380.99" x2="394.40" y2="2380.99" stroke="#000" stroke-width="4.7" stroke-linecap="round"/>
<line x1="368.20" y1="2322.54" x2="394.40" y2="2322.54" stroke="#000" stroke-width="4.7" stroke-linecap="round"/>
<line x1="381.80" y1="2264.09" x2="394.40" y2="2264.09" stroke="#000" stroke-width="4.7" stroke-linecap="round"/>
<line x1="368.20" y1="2205.63" x2="394.40" y2="2205.63" stroke="#000" stroke-width="4.7" stroke-linecap="round"/>
<line x1="381.80" y1="2147.18" x2="394.40" y2="2147.18" stroke="#000" stroke-width="4.7" stroke-linecap="round"/>
<line x1="368.20" y1="2088.72" x2="394.40" y2="2088.72" stroke="#000" stroke-width="4.7" stroke-linecap="round"/>
<line x1="381.80" y1="2030.26" x2="394.40" y2="2030.26" stroke="#000" stroke-width="4.7" stroke-linecap="round"/>
<line x1="368.20" y1="1971.81" x2="394.40" y2="1971.81" stroke="#000" stroke-width="4.7" stroke-linecap="round"/>
<line x1="381.80" y1="1913.36" x2="394.40" y2="1913.36" stroke="#000" stroke-width="4.7" stroke-linecap="round"/>
<line x1="368.20" y1="1854.90" x2="394.40" y2="1854.90" stroke="#000" stroke-width="4.7" stroke-linecap="round"/>
<line x1="394.10" y1="3024.00" x2="394.10" y2="3046.50" stroke="#000" stroke-width="4.7" stroke-linecap="round"/>
<line x1="447.75" y1="3024.00" x2="447.75" y2="3035.60" stroke="#000" stroke-width="4.7" stroke-linecap="round"/>
<line x1="501.39" y1="3024.00" x2="501.39" y2="3046.50" stroke="#000" stroke-width="4.7" stroke-linecap="round"/>
<line x1="555.04" y1="3024.00" x2="555.04" y2="3035.60" stroke="#000" stroke-width="4.7" stroke-linecap="round"/>
<line x1="608.68" y1="3024.00" x2="608.68" y2="3046.50" stroke="#000" stroke-width="4.7" stroke-linecap="round"/>
<line x1="662.33" y1="3024.00" x2="662.33" y2="3035.60" stroke="#000" stroke-width="4.7" stroke-linecap="round"/>
<line x1="715.97" y1="3024.00" x2="715.97" y2="3046.50" stroke="#000" stroke-width="4.7" stroke-linecap="round"/>
<line x1="769.62" y1="3024.00" x2="769.62" y2="3035.60" stroke="#000" stroke-width="4.7" stroke-linecap="round"/>
<line x1="823.26" y1="3024.00" x2="823.26" y2="3046.50" stroke="#000" stroke-width="4.7" stroke-linecap="round"/>
<line x1="876.90" y1="3024.00" x2="876.90" y2="3035.60" stroke="#000" stroke-width="4.7" stroke-linecap="round"/>
<line x1="930.55" y1="3024.00" x2="930.55" y2="3046.50" stroke="#000" stroke-width="4.7" stroke-linecap="round"/>
<line x1="984.20" y1="3024.00" x2="984.20" y2="3035.60" stroke="#000" stroke-width="4.7" stroke-linecap="round"/>
<line x1="1037.84" y1="3024.00" x2="1037.84" y2="3046.50" stroke="#000" stroke-width="4.7" stroke-linecap="round"/>
<line x1="1091.49" y1="3024.00" x2="1091.49" y2="3035.60" stroke="#000" stroke-width="4.7" stroke-linecap="round"/>
<line x1="1145.13" y1="3024.00" x2="1145.13" y2="3046.50" stroke="#000" stroke-width="4.7" stroke-linecap="round"/>
<line x1="1198.78" y1="3024.00" x2="1198.78" y2="3035.60" stroke="#000" stroke-width="4.7" stroke-linecap="round"/>
<line x1="1252.42" y1="3024.00" x2="1252.42" y2="3046.50" stroke="#000" stroke-width="4.7" stroke-linecap="round"/>
<line x1="1306.07" y1="3024.00" x2="1306.07" y2="3035.60" stroke="#000" stroke-width="4.7" stroke-linecap="round"/>
<line x1="1359.71" y1="3024.00" x2="1359.71" y2="3046.50" stroke="#000" stroke-width="4.7" stroke-linecap="round"/>
<line x1="1413.36" y1="3024.00" x2="1413.36" y2="3035.60" stroke="#000" stroke-width="4.7" stroke-linecap="round"/>
<line x1="1467.00" y1="3024.00" x2="1467.00" y2="3046.50" stroke="#000" stroke-width="4.7" stroke-linecap="round"/>
<line x1="1520.64" y1="3024.00" x2="1520.64" y2="3035.60" stroke="#000" stroke-width="4.7" stroke-linecap="round"/>
<line x1="1574.29" y1="3024.00" x2="1574.29" y2="3046.50" stroke="#000" stroke-width="4.7" stroke-linecap="round"/>
<line x1="1627.93" y1="3024.00" x2="1627.93" y2="3035.60" stroke="#000" stroke-width="4.7" stroke-linecap="round"/>
<line x1="1681.58" y1="3024.00" x2="1681.58" y2="3046.50" stroke="#000" stroke-width="4.7" stroke-linecap="round"/>
<line x1="1735.22" y1="3024.00" x2="1735.22" y2="3035.60" stroke="#000" stroke-width="4.7" stroke-linecap="round"/>
<line x1="1788.87" y1="3024.00" x2="1788.87" y2="3046.50" stroke="#000" stroke-width="4.7" stroke-linecap="round"/>
<line x1="1842.52" y1="3024.00" x2="1842.52" y2="3035.60" stroke="#000" stroke-width="4.7" stroke-linecap="round"/>
<line x1="1896.16" y1="3024.00" x2="1896.16" y2="3046.50" stroke="#000" stroke-width="4.7" stroke-linecap="round"/>
<line x1="1949.81" y1="3024.00" x2="1949.81" y2="3035.60" stroke="#000" stroke-width="4.7" stroke-linecap="round"/>
<line x1="2003.45" y1="3024.00" x2="2003.45" y2="3046.50" stroke="#000" stroke-width="4.7" stroke-linecap="round"/>
<text transform="translate(349.30,3035.80) scale(1.0300,1)" font-family="Liberation Sans, Arial, Helvetica, sans-serif" font-size="48.3" font-weight="normal" font-style="normal" text-anchor="end" >0</text>
<text transform="translate(349.30,2918.89) scale(1.0300,1)" font-family="Liberation Sans, Arial, Helvetica, sans-serif" font-size="48.3" font-weight="normal" font-style="normal" text-anchor="end" >10</text>
<text transform="translate(349.30,2801.98) scale(1.0300,1)" font-family="Liberation Sans, Arial, Helvetica, sans-serif" font-size="48.3" font-weight="normal" font-style="normal" text-anchor="end" >20</text>
<text transform="translate(349.30,2685.07) scale(1.0300,1)" font-family="Liberation Sans, Arial, Helvetica, sans-serif" font-size="48.3" font-weight="normal" font-style="normal" text-anchor="end" >30</text>
<text transform="translate(349.30,2568.16) scale(1.0300,1)" font-family="Liberation Sans, Arial, Helvetica, sans-serif" font-size="48.3" font-weight="normal" font-style="normal" text-anchor="end" >40</text>
<text transform="translate(349.30,2451.25) scale(1.0300,1)" font-family="Liberation Sans, Arial, Helvetica, sans-serif" font-size="48.3" font-weight="normal" font-style="normal" text-anchor="end" >50</text>
<text transform="translate(349.30,2334.34) scale(1.0300,1)" font-family="Liberation Sans, Arial, Helvetica, sans-serif" font-size="48.3" font-weight="normal" font-style="normal" text-anchor="end" >60</text>
<text transform="translate(349.30,2217.43) scale(1.0300,1)" font-family="Liberation Sans, Arial, Helvetica, sans-serif" font-size="48.3" font-weight="normal" font-style="normal" text-anchor="end" >70</text>
<text transform="translate(349.30,2100.52) scale(1.0300,1)" font-family="Liberation Sans, Arial, Helvetica, sans-serif" font-size="48.3" font-weight="normal" font-style="normal" text-anchor="end" >80</text>
<text transform="translate(349.30,1983.61) scale(1.0300,1)" font-family="Liberation Sans, Arial, Helvetica, sans-serif" font-size="48.3" font-weight="normal" font-style="normal" text-anchor="end" >90</text>
<text transform="translate(349.30,1866.70) scale(1.0300,1)" font-family="Liberation Sans, Arial, Helvetica, sans-serif" font-size="48.3" font-weight="normal" font-style="normal" text-anchor="end" >100</text>
<text transform="translate(506.29,3103.00) scale(1.13,1)" x="-90.51 -80.22 -53.49 -41.16 -20.58" y="59.05 52.33 34.90 26.85 13.43" rotate="-30.0" font-family="Liberation Sans, Arial, Helvetica, sans-serif" font-size="45.8" font-weight="bold">IC-25</text>
<text transform="translate(613.58,3103.00) scale(1.13,1)" x="-90.51 -80.22 -53.49 -41.16 -20.58" y="59.05 52.33 34.90 26.85 13.43" rotate="-30.0" font-family="Liberation Sans, Arial, Helvetica, sans-serif" font-size="45.8" font-weight="bold">IC-50</text>
<text transform="translate(720.87,3103.00) scale(1.13,1)" x="-90.51 -80.22 -53.49 -41.16 -20.58" y="59.05 52.33 34.90 26.85 13.43" rotate="-30.0" font-family="Liberation Sans, Arial, Helvetica, sans-serif" font-size="45.8" font-weight="bold">IC-75</text>
<text transform="translate(832.06,3106.50) scale(1.13,1)" x="-24.65 -12.33" y="16.08 8.04" rotate="-30.0" font-family="Liberation Sans, Arial, Helvetica, sans-serif" font-size="45.8" font-weight="bold">--</text>
<text transform="translate(935.45,3103.00) scale(1.13,1)" x="-90.51 -80.22 -53.49 -41.16 -20.58" y="59.05 52.33 34.90 26.85 13.43" rotate="-30.0" font-family="Liberation Sans, Arial, Helvetica, sans-serif" font-size="45.8" font-weight="bold">IC-25</text>
<text transform="translate(1042.74,3103.00) scale(1.13,1)" x="-90.51 -80.22 -53.49 -41.16 -20.58" y="59.05 52.33 34.90 26.85 13.43" rotate="-30.0" font-family="Liberation Sans, Arial, Helvetica, sans-serif" font-size="45.8" font-weight="bold">IC-50</text>
<text transform="translate(1150.03,3103.00) scale(1.13,1)" x="-90.51 -80.22 -53.49 -41.16 -20.58" y="59.05 52.33 34.90 26.85 13.43" rotate="-30.0" font-family="Liberation Sans, Arial, Helvetica, sans-serif" font-size="45.8" font-weight="bold">IC-75</text>
<text transform="translate(1261.22,3106.50) scale(1.13,1)" x="-24.65 -12.33" y="16.08 8.04" rotate="-30.0" font-family="Liberation Sans, Arial, Helvetica, sans-serif" font-size="45.8" font-weight="bold">--</text>
<text transform="translate(1364.61,3103.00) scale(1.13,1)" x="-90.51 -80.22 -53.49 -41.16 -20.58" y="59.05 52.33 34.90 26.85 13.43" rotate="-30.0" font-family="Liberation Sans, Arial, Helvetica, sans-serif" font-size="45.8" font-weight="bold">IC-25</text>
<text transform="translate(1471.90,3103.00) scale(1.13,1)" x="-90.51 -80.22 -53.49 -41.16 -20.58" y="59.05 52.33 34.90 26.85 13.43" rotate="-30.0" font-family="Liberation Sans, Arial, Helvetica, sans-serif" font-size="45.8" font-weight="bold">IC-50</text>
<text transform="translate(1579.19,3103.00) scale(1.13,1)" x="-90.51 -80.22 -53.49 -41.16 -20.58" y="59.05 52.33 34.90 26.85 13.43" rotate="-30.0" font-family="Liberation Sans, Arial, Helvetica, sans-serif" font-size="45.8" font-weight="bold">IC-75</text>
<text transform="translate(1690.38,3106.50) scale(1.13,1)" x="-24.65 -12.33" y="16.08 8.04" rotate="-30.0" font-family="Liberation Sans, Arial, Helvetica, sans-serif" font-size="45.8" font-weight="bold">--</text>
<text transform="translate(1793.77,3103.00) scale(1.13,1)" x="-90.51 -80.22 -53.49 -41.16 -20.58" y="59.05 52.33 34.90 26.85 13.43" rotate="-30.0" font-family="Liberation Sans, Arial, Helvetica, sans-serif" font-size="45.8" font-weight="bold">IC-25</text>
<text transform="translate(1901.06,3103.00) scale(1.13,1)" x="-90.51 -80.22 -53.49 -41.16 -20.58" y="59.05 52.33 34.90 26.85 13.43" rotate="-30.0" font-family="Liberation Sans, Arial, Helvetica, sans-serif" font-size="45.8" font-weight="bold">IC-50</text>
<text transform="translate(2008.35,3103.00) scale(1.13,1)" x="-90.51 -80.22 -53.49 -41.16 -20.58" y="59.05 52.33 34.90 26.85 13.43" rotate="-30.0" font-family="Liberation Sans, Arial, Helvetica, sans-serif" font-size="45.8" font-weight="bold">IC-75</text>
<text transform="translate(217.90,2475.60) rotate(-90) scale(0.8757,1)" font-family="Liberation Sans, Arial, Helvetica, sans-serif" font-size="63" font-weight="bold" font-style="normal" text-anchor="middle" >Percent Inhibition</text>
<text transform="translate(2095.60,1851.00)" font-family="Liberation Serif, Times New Roman, serif" font-size="101.5" font-weight="bold" font-style="normal" text-anchor="middle" >B</text>
<text transform="translate(391.80,3235.90) scale(1.0630,1)" font-family="Liberation Sans, Arial, Helvetica, sans-serif" font-size="64.3" font-weight="bold" font-style="italic" text-anchor="start" >S. aureus</text>
<text transform="translate(729.20,3240.20) scale(1.1070,1)" font-family="Liberation Sans, Arial, Helvetica, sans-serif" font-size="62" font-weight="bold" font-style="italic" text-anchor="start" >K. pneumonie</text>
<text transform="translate(1215.90,3243.30) scale(1.1020,1)" font-family="Liberation Sans, Arial, Helvetica, sans-serif" font-size="61.7" font-weight="bold" font-style="italic" text-anchor="start" >Salmonella</text>
<text transform="translate(1673.90,3244.80) scale(1.1200,1)" font-family="Liberation Sans, Arial, Helvetica, sans-serif" font-size="61.7" font-weight="bold" font-style="italic" text-anchor="start" >E. coli</text>
</svg>
</body></html>
